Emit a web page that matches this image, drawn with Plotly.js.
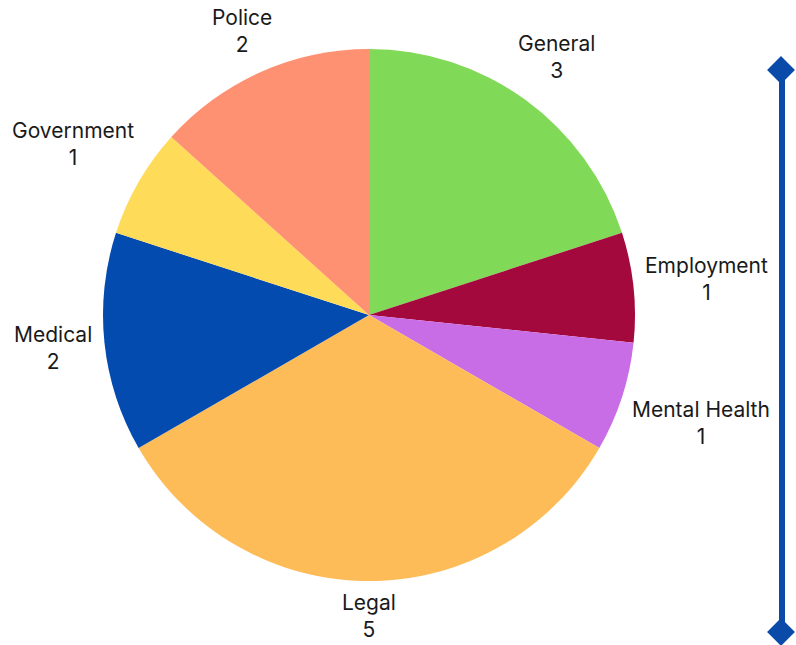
<!DOCTYPE html>
<html>
<head>
<meta charset="utf-8">
<script src="https://cdn.plot.ly/plotly-3.0.1.min.js"></script>
<style>html,body{margin:0;padding:0;background:#fff;}#chart{width:796px;height:645px;}</style>
</head>
<body>
<div id="chart"></div>
<script>
const categories = ["General", "Employment", "Mental Health", "Legal", "Medical", "Government", "Police"];
const counts = [3, 1, 1, 5, 2, 1, 2];
const sliceColors = ["#80DA58", "#A4093D", "#C96DE6", "#FEBC59", "#034BAF", "#FEDB59", "#FE9172"];

const W = 796, H = 645;
const px = x => x / W;
const py = y => 1 - y / H;

// pie geometry (pixels)
const domX = [0, 738 / W], domY = [64 / H, 596 / H];
const cx = (domX[0] + domX[1]) / 2 * W;
const cy = H - (domY[0] + domY[1]) / 2 * H;
const R = Math.min((domX[1] - domX[0]) * W, (domY[1] - domY[0]) * H) / 2;

const fontSize = 21;
const fontFamily = "Inter, sans-serif";
const labelColor = "#1a1a1a";

const canvas = document.createElement("canvas");
const ctx = canvas.getContext("2d");
ctx.font = fontSize + "px Inter";

const total = counts.reduce((a, b) => a + b, 0);
const annotations = [];
let cum = 0;
categories.forEach((cat, i) => {
  const mid = (cum + counts[i] / 2) / total * 2 * Math.PI;
  cum += counts[i];
  const s = Math.sin(mid), c = Math.cos(mid);
  const hw = Math.max(ctx.measureText(cat).width, ctx.measureText(String(counts[i])).width) / 2;
  const hh = 25;
  const d = R + 10 + hw * Math.abs(s) + hh * Math.abs(c);
  const lx = cx + d * s, ly = cy - d * c;
  annotations.push({
    xref: "paper", yref: "paper", x: px(lx), y: py(ly),
    xanchor: "center", yanchor: "middle", showarrow: false, align: "center",
    text: cat + "<br>" + counts[i],
    font: {family: fontFamily, size: fontSize, color: labelColor}
  });
});

const barColor = "#0A4BAA";
function diamond(x, y, h) {
  return `M ${px(x)} ${py(y - h)} L ${px(x + h)} ${py(y)} L ${px(x)} ${py(y + h)} L ${px(x - h)} ${py(y)} Z`;
}

const data = [{
  type: "pie",
  labels: categories,
  values: counts,
  sort: false,
  direction: "clockwise",
  rotation: 0,
  textinfo: "none",
  marker: {colors: sliceColors, line: {width: 0}},
  showlegend: false,
  hoverinfo: "label+value",
  domain: {x: domX, y: domY}
}];

const layout = {
  width: W,
  height: H,
  margin: {l: 0, r: 0, t: 0, b: 0},
  paper_bgcolor: "#ffffff",
  showlegend: false,
  annotations: annotations,
  shapes: [
    {type: "line", xref: "paper", yref: "paper", x0: px(782), x1: px(782), y0: py(70), y1: py(632),
     line: {color: barColor, width: 6}},
    {type: "path", xref: "paper", yref: "paper", path: diamond(781, 70, 12.5),
     fillcolor: barColor, line: {color: barColor, width: 2}},
    {type: "path", xref: "paper", yref: "paper", path: diamond(781, 632, 12.5),
     fillcolor: barColor, line: {color: barColor, width: 2}}
  ]
};

Plotly.newPlot("chart", data, layout, {displayModeBar: false, staticPlot: true});
</script>
</body>
</html>
